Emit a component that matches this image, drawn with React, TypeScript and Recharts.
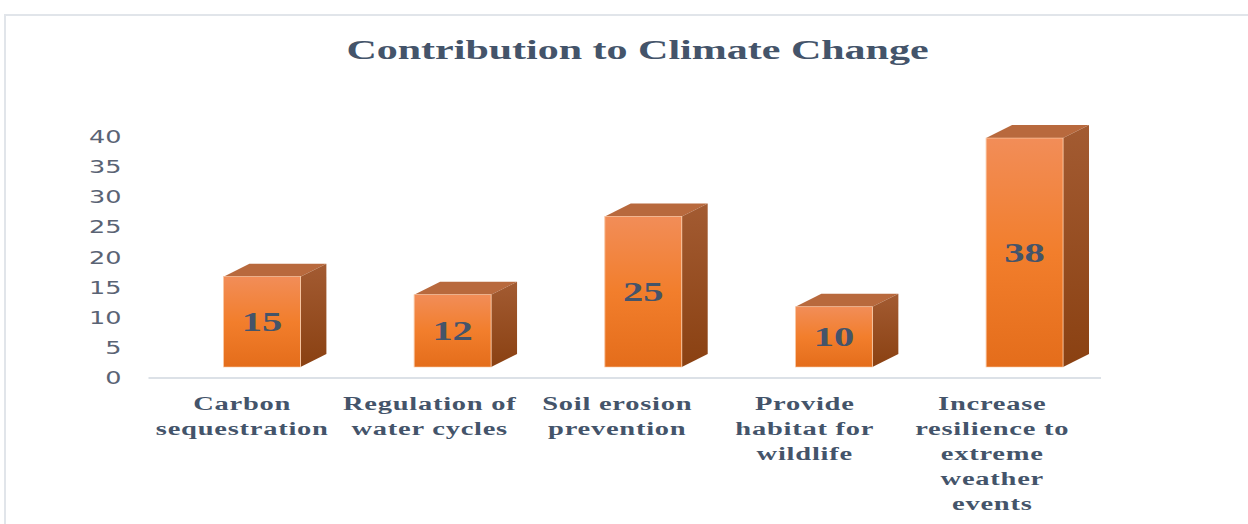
import { Bar, BarChart, LabelList, XAxis, YAxis } from "recharts";

// Source picture is a horizontally stretched Excel 3D column chart, so the
// whole chart is drawn narrow and widened with scaleX.
const STRETCH = 1.5;
const CHART_W = 832;
const CHART_H = 524;
const DEPTH_X = 17.3;
const DEPTH_Y = 13;
const FLOOR_DROP = 11;

const categories = [
  "Carbon sequestration",
  "Regulation of water cycles",
  "Soil erosion prevention",
  "Provide habitat for wildlife",
  "Increase resilience to extreme weather events",
];
const tickLines = [
  ["Carbon", "sequestration"],
  ["Regulation of", "water cycles"],
  ["Soil erosion", "prevention"],
  ["Provide", "habitat for", "wildlife"],
  ["Increase", "resilience to", "extreme", "weather", "events"],
];
const contributions = [15, 12, 25, 10, 38];
const yTicks = [0, 5, 10, 15, 20, 25, 30, 35, 40];

const data = categories.map((category, i) => ({ category, value: contributions[i] }));

const TEXT = "#44546a";
const SERIF = "'Liberation Serif', 'Times New Roman', serif";

function Bar3D(props: any) {
  const { x, y, width, height } = props;
  if (width == null || height == null) return null;
  const r = x + width;
  const b = y + height;
  return (
    <g>
      <polygon
        points={`${x},${y} ${x + DEPTH_X},${y - DEPTH_Y} ${r + DEPTH_X},${y - DEPTH_Y} ${r},${y}`}
        fill="#b8693d"
      />
      <polygon
        points={`${r},${y} ${r + DEPTH_X},${y - DEPTH_Y} ${r + DEPTH_X},${b - DEPTH_Y} ${r},${b}`}
        fill="url(#side-fill)"
      />
      <rect x={x} y={y} width={width} height={height} fill="url(#front-fill)" stroke="#f9c9a6" strokeWidth={0.6} />
    </g>
  );
}

function YTick({ x, y, payload }: any) {
  return (
    <text
      x={x}
      y={y + FLOOR_DROP}
      dy="0.36em"
      textAnchor="end"
      fill="#5a6374"
      style={{ fontFamily: "'DejaVu Sans', sans-serif", fontSize: 17 }}
    >
      {payload.value}
    </text>
  );
}

function XTick({ x, y, payload }: any) {
  const lines = tickLines[categories.indexOf(payload.value)] ?? [payload.value];
  return (
    <text
      textAnchor="middle"
      fill={TEXT}
      style={{ fontFamily: SERIF, fontWeight: 700, fontSize: 19, letterSpacing: 0.5 }}
    >
      {lines.map((line: string, i: number) => (
        <tspan key={i} x={x} y={y + 35 + i * 25}>
          {line}
        </tspan>
      ))}
    </text>
  );
}

export default function App() {
  return (
    <div
      style={{
        position: "fixed",
        left: 0,
        top: 0,
        width: 1248,
        height: CHART_H,
        overflow: "hidden",
        background: "#fff",
      }}
    >
      <div
        style={{
          position: "absolute",
          left: 4,
          top: 14,
          width: 1300,
          height: 600,
          border: "2px solid #e1e5ea",
        }}
      />
      <div
        style={{
          position: "absolute",
          left: 0,
          top: 0,
          width: CHART_W,
          height: CHART_H,
          transform: `scaleX(${STRETCH})`,
          transformOrigin: "0 0",
        }}
      >
        <div
          style={{
            position: "absolute",
            left: 0,
            top: 36,
            width: 850,
            textAlign: "center",
            fontFamily: SERIF,
            fontWeight: 700,
            fontSize: 28,
            lineHeight: "28px",
            color: TEXT,
          }}
        >
          Contribution to Climate Change
        </div>
        <BarChart
          width={CHART_W}
          height={CHART_H}
          data={data}
          margin={{ top: 126, right: 98, bottom: 7, left: 0 }}
        >
          <defs>
            <linearGradient id="front-fill" x1="0" y1="0" x2="0" y2="1">
              <stop offset="0%" stopColor="#f28d58" />
              <stop offset="50%" stopColor="#f27e2c" />
              <stop offset="100%" stopColor="#e46d1b" />
            </linearGradient>
            <linearGradient id="side-fill" x1="0" y1="0" x2="0" y2="1">
              <stop offset="0%" stopColor="#a35b32" />
              <stop offset="100%" stopColor="#8a4112" />
            </linearGradient>
          </defs>
          <YAxis
            domain={[0, 40]}
            ticks={yTicks}
            width={99}
            axisLine={false}
            tickLine={false}
            tickMargin={12}
            tick={<YTick />}
          />
          <XAxis
            xAxisId="labels"
            dataKey="category"
            height={150}
            interval={0}
            tickLine={false}
            padding={{ left: 0, right: 10 }}
            axisLine={{ stroke: "#dce1e7", strokeWidth: 2, transform: `translate(0 ${FLOOR_DROP})` }}
            tick={<XTick />}
          />
          <XAxis xAxisId="bars" dataKey="category" hide height={0} padding={{ left: 12, right: -12.5 }} />
          <Bar xAxisId="bars" dataKey="value" barSize={51.3} shape={<Bar3D />} isAnimationActive={false}>
            <LabelList
              dataKey="value"
              position="center"
              fill={TEXT}
              style={{ fontFamily: SERIF, fontWeight: 700, fontSize: 27 }}
            />
          </Bar>
        </BarChart>
      </div>
    </div>
  );
}
